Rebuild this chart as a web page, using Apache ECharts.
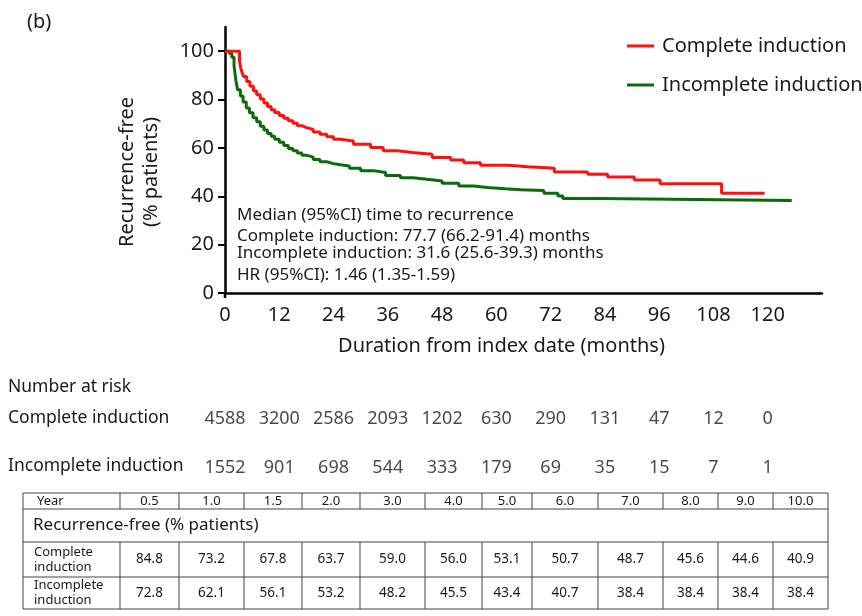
<!DOCTYPE html>
<html>
<head>
<meta charset="utf-8">
<script src="https://cdn.jsdelivr.net/npm/echarts@6/dist/echarts.min.js"></script>
<style>
	html, body { margin: 0; padding: 0; background: #fff; }
	#main { width: 862px; height: 616px; }
</style>
</head>
<body>
<div id="main"></div>
<script>
// Kaplan-Meier curves (month, % recurrence-free)
var completeMonths = [0, 3.2, 3.5, 3.8, 4.1, 4.8, 5.5, 6.3, 7, 7.8, 8.6, 9.4, 10.2, 11, 12, 13, 14, 15, 16, 17, 18, 19.5, 21, 22.5, 24, 25.5, 28.4, 32.2, 35, 38, 41.4, 45.8, 49.9, 52.8, 56.5, 62.5, 67, 72.8, 80.2, 84.6, 90.5, 96.2, 109.8, 119.3]
var completeSurv = [100, 96, 93, 91, 89.5, 87.5, 85.5, 83.5, 82, 80.2, 78.6, 77.1, 75.8, 74.6, 73.4, 72.3, 71.2, 70.2, 69.2, 68.4, 67.6, 66.6, 65.6, 64.6, 63.6, 62.9, 61.5, 60.2, 58.8, 58.1, 57.4, 56, 55, 53.9, 52.8, 52.2, 51.6, 50.0, 49.1, 48.0, 46.7, 45.2, 41.2, 41.2]
var incompleteMonths = [0, 1, 1.5, 2, 2.4, 2.8, 3.4, 4, 4.7, 5.4, 6.2, 7, 7.8, 8.6, 9.4, 10.2, 11, 12, 13, 14, 15, 16, 17, 18, 19.5, 21, 22.5, 24, 25.5, 27.5, 30, 32.8, 35.5, 38.8, 41.5, 44.7, 48, 51.7, 55, 58, 62, 65.4, 70.5, 73.6, 74.7, 82.7, 125.3]
var incompleteSurv = [100, 99, 97.5, 94, 88, 84, 81.5, 79, 76.5, 74.5, 72.5, 70.8, 69, 67.4, 66, 64.8, 63.6, 62.3, 61, 59.8, 58.8, 57.9, 57, 56.2, 55.2, 54.3, 53.5, 53, 52.5, 51.6, 50.6, 49.8, 48.6, 47.7, 47, 46.3, 45.4, 44.2, 43.6, 43.1, 42.7, 42.4, 41.2, 40.1, 39.1, 38.3, 38.3]

// number at risk
var riskMonths = [0, 12, 24, 36, 48, 60, 72, 84, 96, 108, 120]
var completeRisk = [4588, 3200, 2586, 2093, 1202, 630, 290, 131, 47, 12, 0]
var incompleteRisk = [1552, 901, 698, 544, 333, 179, 69, 35, 15, 7, 1]

// summary table
var tableYears = ['0.5', '1.0', '1.5', '2.0', '3.0', '4.0', '5.0', '6.0', '7.0', '8.0', '9.0', '10.0']
var tableComplete = [84.8, 73.2, 67.8, 63.7, 59.0, 56.0, 53.1, 50.7, 48.7, 45.6, 44.6, 40.9]
var tableIncomplete = [72.8, 62.1, 56.1, 53.2, 48.2, 45.5, 43.4, 40.7, 38.4, 38.4, 38.4, 38.4]

var yTicks = [0, 20, 40, 60, 80, 100]
var annotation = [
	'Median (95%CI) time to recurrence',
	'Complete induction: 77.7 (66.2-91.4) months',
	'Incomplete induction: 31.6 (25.6-39.3) months',
	'HR (95%CI): 1.46 (1.35-1.59)',
]

var FONT = '"Noto Sans", "Open Sans", sans-serif'
var TXT = '#1a1a1a'

function zip(xs, ys) {
	return xs.map(function (x, i) {
		return [x, ys[i]]
	})
}

function riskData(row, values) {
	return riskMonths.map(function (m, i) {
		return [m, row, values[i]]
	})
}

function txt(x, y, s, size, align) {
	return {
		type: 'text',
		x: x,
		y: y,
		style: {
			text: s,
			font: size + 'px ' + FONT,
			fill: TXT,
			textAlign: align || 'left',
			textVerticalAlign: 'middle',
		},
	}
}

function ln(x1, y1, x2, y2) {
	return {
		type: 'line',
		shape: { x1: x1, y1: y1, x2: x2, y2: y2 },
		style: { stroke: '#444', lineWidth: 1 },
	}
}

function buildTable() {
	var cols = [23, 120, 179, 244, 302, 360, 425, 482, 532, 598, 663, 718, 773, 828]
	var rows = [493, 509, 542, 577, 609]
	var els = []
	rows.forEach(function (y) {
		els.push(ln(cols[0], y, cols[cols.length - 1], y))
	})
	els.push(ln(cols[0], rows[0], cols[0], rows[4]))
	els.push(ln(cols[13], rows[0], cols[13], rows[4]))
	for (var c = 1; c < cols.length - 1; c++) {
		els.push(ln(cols[c], rows[0], cols[c], rows[1]))
		els.push(ln(cols[c], rows[2], cols[c], rows[4]))
	}
	els.push(txt(37, (rows[0] + rows[1]) / 2, 'Year', 13))
	els.push(txt(33, (rows[1] + rows[2]) / 2, 'Recurrence-free (% patients)', 17))
	els.push({
		type: 'text',
		x: 34,
		y: (rows[2] + rows[3]) / 2,
		style: { text: 'Complete\ninduction', font: '13px ' + FONT, fill: TXT, lineHeight: 15, textVerticalAlign: 'middle' },
	})
	els.push({
		type: 'text',
		x: 34,
		y: (rows[3] + rows[4]) / 2,
		style: { text: 'Incomplete\ninduction', font: '13px ' + FONT, fill: TXT, lineHeight: 15, textVerticalAlign: 'middle' },
	})
	tableYears.forEach(function (yr, i) {
		var cx = (cols[i + 1] + cols[i + 2]) / 2
		els.push(txt(cx, (rows[0] + rows[1]) / 2, yr, 13, 'center'))
		els.push(txt(cx, (rows[2] + rows[3]) / 2, tableComplete[i].toFixed(1), 13.5, 'center'))
		els.push(txt(cx, (rows[3] + rows[4]) / 2, tableIncomplete[i].toFixed(1), 13.5, 'center'))
	})
	return els
}

function drawChart(chartDom) {
	var myChart = echarts.init(chartDom)
	var graphics = [
		txt(27, 22, '(b)', 20),
		txt(8, 387, 'Number at risk', 17.5),
		txt(8, 418, 'Complete induction', 17.5),
		txt(8, 466, 'Incomplete induction', 17.5),
		// y axis runs a little below the x axis
		{
			type: 'line',
			shape: { x1: 225, y1: 293, x2: 225, y2: 298 },
			style: { stroke: '#000', lineWidth: 2.5 },
		},
	]
	var annY = [215, 236, 253, 275]
	annotation.forEach(function (s, i) {
		graphics.push(txt(237, annY[i], s, 17))
	})
	graphics = graphics.concat(buildTable())

	var option = {
		animation: false,
		textStyle: { fontFamily: FONT, color: TXT },
		legend: {
			orient: 'vertical',
			left: 622,
			top: 31,
			icon: 'rect',
			itemWidth: 27,
			itemHeight: 3,
			itemGap: 19,
			textStyle: { fontSize: 20, color: TXT, padding: [0, 0, 0, 3] },
			data: ['Complete induction', 'Incomplete induction'],
		},
		grid: [
			{ left: 225, right: 40, top: 27, bottom: 323, containLabel: false },
			{ left: 225, right: 40, top: 394, height: 98, containLabel: false },
		],
		xAxis: [
			{
				type: 'value',
				min: 0,
				max: 132,
				interval: 12,
				name: 'Duration from index date (months)',
				nameLocation: 'middle',
				nameGap: 43,
				nameTextStyle: { fontSize: 20, color: TXT, padding: [0, 44, 0, 0] },
				axisLine: { lineStyle: { color: '#000', width: 2.5 } },
				axisTick: { show: false },
				splitLine: { show: false },
				axisLabel: {
					fontSize: 20,
					color: TXT,
					margin: 12,
					formatter: function (v) {
						return v > 120 ? '' : v
					},
				},
			},
			{ type: 'value', gridIndex: 1, min: 0, max: 132, show: false },
		],
		yAxis: [
			{
				type: 'value',
				min: 0,
				max: 110,
				interval: 20,
				name: 'Recurrence-free\n(% patients)',
				nameLocation: 'middle',
				nameGap: 62,
				nameTextStyle: { fontSize: 20, color: TXT, lineHeight: 24, padding: [0, 24, 0, 0] },
				axisLine: { show: true, lineStyle: { color: '#000', width: 2.5 } },
				axisTick: { show: true, length: 7, customValues: yTicks, lineStyle: { color: '#000', width: 2 } },
				splitLine: { show: false },
				axisLabel: { fontSize: 20, color: TXT, margin: 11, customValues: yTicks },
			},
			{
				type: 'category',
				gridIndex: 1,
				inverse: true,
				data: ['Complete induction', 'Incomplete induction'],
				show: false,
			},
		],
		series: [
			{
				name: 'Incomplete induction',
				type: 'line',
				step: 'end',
				showSymbol: false,
				color: '#0b6b0b',
				lineStyle: { width: 3 },
				data: zip(incompleteMonths, incompleteSurv),
			},
			{
				name: 'Complete induction',
				type: 'line',
				step: 'end',
				showSymbol: false,
				color: '#ff1010',
				lineStyle: { width: 3 },
				data: zip(completeMonths, completeSurv),
			},
			{
				type: 'scatter',
				xAxisIndex: 1,
				yAxisIndex: 1,
				symbolSize: 1,
				itemStyle: { color: 'transparent' },
				label: {
					show: true,
					position: 'inside',
					fontSize: 18,
					color: TXT,
					formatter: function (p) {
						return p.value[2]
					},
				},
				data: riskData('Complete induction', completeRisk).concat(
					riskData('Incomplete induction', incompleteRisk)
				),
			},
		],
		graphic: graphics,
	}

	option && myChart.setOption(option)
}

drawChart(document.getElementById('main'))
</script>
</body>
</html>
